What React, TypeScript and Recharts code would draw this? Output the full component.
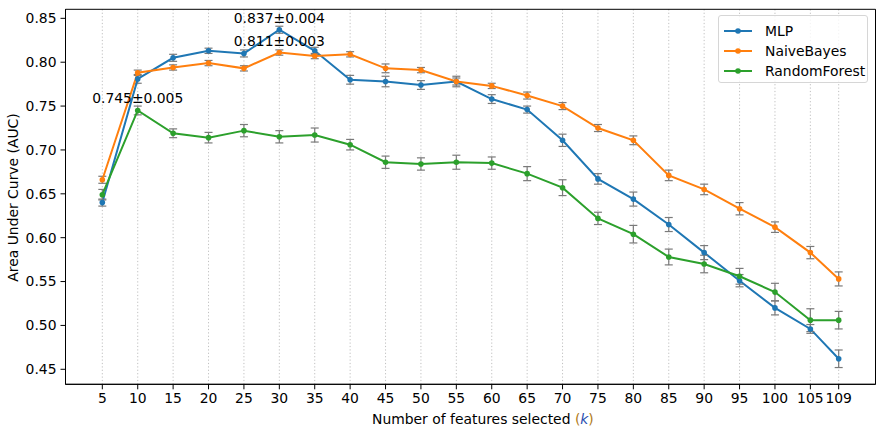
import { CartesianGrid, ErrorBar, LabelList, Line, LineChart, ReferenceArea, XAxis, YAxis } from "recharts";

const features = [5, 10, 15, 20, 25, 30, 35, 40, 45, 50, 55, 60, 65, 70, 75, 80, 85, 90, 95, 100, 105, 109];

const mlpMean = [0.640, 0.781, 0.805, 0.813, 0.810, 0.837, 0.813, 0.780, 0.778, 0.774, 0.778, 0.758, 0.746, 0.711, 0.667, 0.644, 0.615, 0.583, 0.551, 0.520, 0.496, 0.462];
const mlpStd = [0.004, 0.005, 0.004, 0.003, 0.004, 0.004, 0.004, 0.005, 0.006, 0.005, 0.006, 0.005, 0.004, 0.007, 0.006, 0.008, 0.008, 0.008, 0.007, 0.008, 0.005, 0.010];

const nbMean = [0.666, 0.788, 0.794, 0.799, 0.793, 0.811, 0.807, 0.809, 0.793, 0.791, 0.778, 0.773, 0.762, 0.750, 0.725, 0.711, 0.671, 0.655, 0.633, 0.612, 0.583, 0.553];
const nbStd = [0.004, 0.003, 0.003, 0.003, 0.003, 0.003, 0.003, 0.003, 0.005, 0.003, 0.004, 0.003, 0.004, 0.004, 0.004, 0.005, 0.006, 0.006, 0.007, 0.006, 0.007, 0.008];

const rfMean = [0.649, 0.745, 0.719, 0.714, 0.722, 0.715, 0.717, 0.706, 0.686, 0.684, 0.686, 0.685, 0.673, 0.657, 0.622, 0.604, 0.578, 0.570, 0.556, 0.538, 0.506, 0.506];
const rfStd = [0.006, 0.005, 0.005, 0.006, 0.007, 0.007, 0.008, 0.006, 0.007, 0.007, 0.008, 0.007, 0.008, 0.009, 0.007, 0.010, 0.009, 0.010, 0.009, 0.010, 0.013, 0.010];

const yTicks = [0.45, 0.5, 0.55, 0.6, 0.65, 0.7, 0.75, 0.8, 0.85];

const X_DOMAIN: [number, number] = [-0.2, 114.2];
const Y_DOMAIN: [number, number] = [0.4329, 0.8603];

const FONT = "DejaVu Sans, sans-serif";
const FS = 13.9;

const series = [
  { key: "mlp", name: "MLP", color: "#1f77b4", mean: mlpMean, std: mlpStd },
  { key: "nb", name: "NaiveBayes", color: "#ff7f0e", mean: nbMean, std: nbStd },
  { key: "rf", name: "RandomForest", color: "#2ca02c", mean: rfMean, std: rfStd }
];

const data = features.map((k, i) => {
  const row: Record<string, number> = { k };
  series.forEach((s) => {
    row[s.key] = s.mean[i];
    row[s.key + "Err"] = s.std[i];
  });
  return row;
});

const peakLabel = (mean: number[], std: number[]) => (props: any) => {
  const { x, y, index } = props;
  const best = mean.indexOf(Math.max(...mean));
  if (index !== best) return null;
  return (
    <text x={x} y={y - 7} textAnchor="middle" fontSize={FS} fontFamily={FONT} fill="#000">
      {`${mean[best].toFixed(3)}±${std[best].toFixed(3)}`}
    </text>
  );
};

const YLabel = () => (
  <text transform="translate(17.5,197.5) rotate(-90)" textAnchor="middle" fontSize={FS} fontFamily={FONT} fill="#000">
    Area Under Curve (AUC)
  </text>
);

const XLabel = () => (
  <text x={372} y={424.3} textAnchor="start" fontSize={FS} fontFamily={FONT} fill="#000">
    Number of features selected{" "}
    <tspan fill="#b07a20">(</tspan>
    <tspan fill="#2a4fb0" fontStyle="italic">k</tspan>
    <tspan fill="#b07a20">)</tspan>
  </text>
);

const LegendBox = () => (
  <div
    style={{
      position: "absolute",
      left: 718,
      top: 15,
      width: 150,
      height: 68,
      boxSizing: "border-box",
      border: "1px solid #d6d6d6",
      borderRadius: 3,
      background: "rgba(255,255,255,0.8)",
      fontFamily: FONT,
      fontSize: FS,
      color: "#000"
    }}
  >
    {series.map((s, i) => (
      <div key={s.key} style={{ position: "absolute", left: 4, top: 5 + i * 20, height: 20, display: "flex", alignItems: "center" }}>
        <svg width={30} height={10} style={{ marginRight: 12 }}>
          <line x1={1} y1={5} x2={29} y2={5} stroke={s.color} strokeWidth={2} />
          <circle cx={15} cy={5} r={2.8} fill={s.color} />
        </svg>
        <span>{s.name}</span>
      </div>
    ))}
  </div>
);

export default function App() {
  return (
    <div style={{ position: "absolute", left: 0, top: 0, width: 886, height: 429, background: "#fff" }}>
      <LineChart width={886} height={429} data={data} margin={{ top: 9.3, right: 10.5, bottom: 0, left: 5 }}>
        <CartesianGrid horizontal={false} stroke="#b0b0b0" strokeDasharray="1.2 2.2" strokeWidth={0.8} />
        <XAxis
          dataKey="k"
          type="number"
          domain={X_DOMAIN}
          ticks={features}
          interval={0}
          allowDataOverflow
          height={44.7}
          tickSize={5}
          tickMargin={4}
          tick={{ fill: "#000", fontSize: FS, fontFamily: FONT }}
          tickLine={{ stroke: "#000" }}
          axisLine={{ stroke: "#000" }}
          label={<XLabel />}
        />
        <YAxis
          type="number"
          domain={Y_DOMAIN}
          ticks={yTicks}
          allowDataOverflow
          width={60.5}
          tickSize={5}
          tickMargin={4}
          tickFormatter={(v: number) => v.toFixed(2)}
          tick={{ fill: "#000", fontSize: FS, fontFamily: FONT }}
          tickLine={{ stroke: "#000" }}
          axisLine={{ stroke: "#000" }}
          label={<YLabel />}
        />
        <ReferenceArea x1={X_DOMAIN[0]} x2={X_DOMAIN[1]} y1={Y_DOMAIN[0]} y2={Y_DOMAIN[1]} fill="none" stroke="#000" strokeWidth={1} ifOverflow="extendDomain" />
        {series.map((s) => (
          <Line
            key={s.key}
            dataKey={s.key}
            name={s.name}
            stroke={s.color}
            strokeWidth={2}
            dot={{ r: 2.8, fill: s.color, stroke: s.color, strokeWidth: 0 }}
            activeDot={false}
            isAnimationActive={false}
          >
            <ErrorBar dataKey={s.key + "Err"} direction="y" width={4} stroke="#7a7a7a" strokeWidth={1.2} isAnimationActive={false} />
            <LabelList dataKey={s.key} content={peakLabel(s.mean, s.std)} />
          </Line>
        ))}
      </LineChart>
      <LegendBox />
    </div>
  );
}
